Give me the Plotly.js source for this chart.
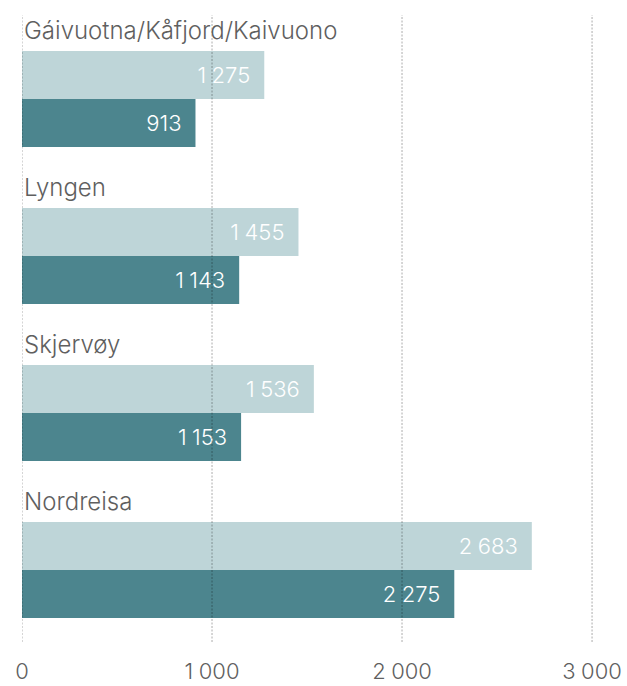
<!DOCTYPE html>
<html>
<head>
<meta charset="utf-8">
<script src="https://cdn.plot.ly/plotly-3.0.1.min.js"></script>
<style>html,body{margin:0;padding:0;background:#fff;}#chart{width:627px;height:686px;}</style>
</head>
<body>
<div id="chart"></div>
<script>
const categories = ["Gáivuotna/Kåfjord/Kaivuono", "Lyngen", "Skjervøy", "Nordreisa"];
const lightValues = [1275, 1455, 1536, 2683];
const darkValues = [913, 1143, 1153, 2275];
const tickValues = [0, 1000, 2000, 3000];

const FONT = "Inter, 'Noto Sans', sans-serif";
const textColor = "#5f5f5f";

const traces = [
  {
    type: "bar", orientation: "h", y: categories, x: lightValues,
    marker: {color: "#bed5d8"},
    texttemplate: "%{x:,}\u2002", textposition: "inside", insidetextanchor: "end",
    textfont: {family: FONT, size: 22, color: "#ffffff", weight: 300},
    hoverinfo: "none", cliponaxis: false
  },
  {
    type: "bar", orientation: "h", y: categories, x: darkValues,
    marker: {color: "#4c858e"},
    texttemplate: "%{x:,}\u2002", textposition: "inside", insidetextanchor: "end",
    textfont: {family: FONT, size: 22, color: "#ffffff", weight: 300},
    hoverinfo: "none", cliponaxis: false
  }
];

const annotations = categories.map(c => ({
  xref: "x", yref: "y", x: 0, y: c, xanchor: "left", yanchor: "middle",
  yshift: 68, showarrow: false, text: c,
  font: {family: FONT, size: 24, color: textColor, weight: 300}
}));

const shapes = tickValues.map(v => ({
  type: "line", xref: "x", yref: "paper", x0: v, x1: v, y0: 0, y1: 1,
  layer: "above", line: {color: "rgba(0,0,0,0.33)", width: 1, dash: "2px,1.5px"}
}));

const layout = {
  width: 627, height: 686,
  margin: {l: 22, r: 15, t: 15, b: 44},
  paper_bgcolor: "#ffffff", plot_bgcolor: "#ffffff",
  showlegend: false,
  barmode: "group", bargap: 0.389, bargroupgap: 0,
  separators: ",\u2005",
  font: {family: FONT, color: textColor},
  xaxis: {
    range: [0, 3105], tickvals: tickValues, tickformat: ",",
    showgrid: false, zeroline: false, showline: false, ticks: "",
    tickfont: {family: FONT, size: 22, color: textColor, weight: 300},
    ticklabelstandoff: 14, fixedrange: true
  },
  yaxis: {
    type: "category", categoryorder: "array", categoryarray: categories,
    range: [3.459, -0.535], showticklabels: false, showgrid: false,
    zeroline: false, showline: false, ticks: "", fixedrange: true
  },
  annotations: annotations,
  shapes: shapes
};

Plotly.newPlot("chart", traces, layout, {displayModeBar: false, staticPlot: true});
</script>
</body>
</html>
